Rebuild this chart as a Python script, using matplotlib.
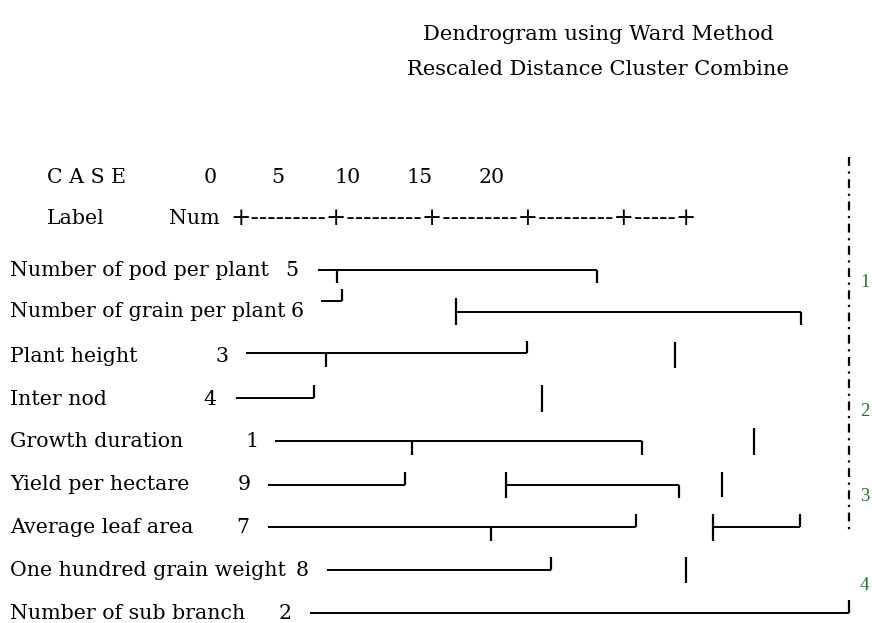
import matplotlib
matplotlib.use("Agg")
import matplotlib.pyplot as plt

# ---- data -------------------------------------------------------------
title_lines = ["Dendrogram using Ward Method", "Rescaled Distance Cluster Combine"]
scale_ticks = ["0", "5", "10", "15", "20"]
ruler = "+---------+---------+---------+---------+-----+"
labels = ["Number of pod per plant", "Number of grain per plant", "Plant height",
          "Inter nod", "Growth duration", "Yield per hectare", "Average leaf area",
          "One hundred grain weight", "Number of sub branch"]
case_nums = ["5", "6", "3", "4", "1", "9", "7", "8", "2"]
cluster_ids = ["1", "2", "3", "4"]
cluster_rows = [0.28, 3.31, 5.29, 7.35]

# horizontal joins: (row, distance_start, distance_end)
h_joins = [(0.00, 4.05, 18.55), (0.72, 4.21, 5.30), (0.98, 11.22, 29.14),
           (1.94, 0.31, 14.91), (2.99, -0.21, 3.84), (3.99, 1.82, 20.88),
           (5.01, 1.45, 8.57), (5.01, 13.82, 22.81), (5.99, 1.45, 20.57),
           (5.99, 24.57, 29.09), (7.00, 4.52, 16.16), (8.00, 3.64, 31.64)]
# vertical joins: (distance, row_start, row_end)
v_joins = [(5.04, 0.00, 0.30), (18.55, 0.00, 0.30), (5.30, 0.44, 0.72),
           (11.22, 0.65, 1.28), (29.14, 0.98, 1.28), (4.47, 1.94, 2.26),
           (14.91, 1.66, 1.94), (22.60, 1.68, 2.29), (3.84, 2.68, 2.99),
           (15.69, 2.68, 3.31), (8.94, 3.99, 4.31), (20.88, 3.99, 4.31),
           (26.70, 3.69, 4.31), (8.57, 4.71, 5.01), (13.82, 4.71, 5.32),
           (22.81, 5.01, 5.32), (25.04, 4.71, 5.29), (13.04, 5.99, 6.32),
           (20.57, 5.69, 5.99), (24.57, 5.69, 6.32), (29.09, 5.69, 5.99),
           (16.16, 6.69, 7.00), (23.17, 6.69, 7.30), (31.64, 7.70, 8.00)]
cut_distance = 31.64
cut_rows = (-2.64, 6.13)

# ---- layout -----------------------------------------------------------
W, H = 872, 623
X0, PXU = 240.0, 19.25      # pixel of distance 0, pixels per distance unit
Y0, PYR = 270.0, 42.875     # pixel of row 0, pixels per row

fig = plt.figure(figsize=(W / 100, H / 100), dpi=100)
ax = fig.add_axes([0, 0, 1, 1])
ax.set_xlim(-X0 / PXU, (W - X0) / PXU)
ax.set_ylim((H - Y0) / PYR, -Y0 / PYR)
ax.axis("off")

def dx(px):
    return (px - X0) / PXU

def ry(py):
    return (py - Y0) / PYR

serif = "DejaVu Serif"
fs = 14.8
lw = 1.4

# title
tx = dx(598)
ax.text(tx, ry(40), title_lines[0], family=serif, fontsize=15.1, ha="center", va="baseline")
ax.text(tx, ry(75), title_lines[1], family=serif, fontsize=15.1, ha="center", va="baseline")

# header
ax.text(dx(47), ry(183), "C A S E", family=serif, fontsize=fs, ha="left", va="baseline")
tick_px = [210, 278, 348, 420, 492]
for lab, px in zip(scale_ticks, tick_px):
    ax.text(dx(px), ry(183), lab, family=serif, fontsize=fs, ha="center", va="baseline")
ax.text(dx(76), ry(224), "Label", family=serif, fontsize=fs, ha="center", va="baseline")
ax.text(dx(194), ry(224), "Num", family=serif, fontsize=fs, ha="center", va="baseline")
ax.text(dx(230), ry(225), ruler, family=serif, fontsize=17.6, ha="left", va="baseline")

# row labels
num_px = [292, 297, 222, 210, 252, 244, 243, 302, 285]
text_rows = [0.0, 0.95, 2.0, 3.0, 4.0, 5.0, 6.0, 7.0, 8.0]
for i, (lab, n) in enumerate(zip(labels, case_nums)):
    yb = text_rows[i] + ry(276) - ry(270)
    ax.text(dx(10), yb, lab, family=serif, fontsize=fs, ha="left", va="baseline")
    ax.text(dx(num_px[i]), yb, n, family=serif, fontsize=fs, ha="center", va="baseline")

# dendrogram joins
for r, d0, d1 in h_joins:
    ax.plot([d0, d1], [r, r], color="black", lw=lw, solid_capstyle="butt")
for d, r0, r1 in v_joins:
    ax.plot([d, d], [r0, r1], color="black", lw=lw + 0.2, solid_capstyle="butt")

# cut line
ax.plot([cut_distance, cut_distance], list(cut_rows), color="black", lw=1.6,
        linestyle=(0, (4, 2.5, 1, 2.5)))

for cid, r in zip(cluster_ids, cluster_rows):
    ax.text(dx(860), r, cid, family="Liberation Serif", fontsize=13.5,
            color="#1f7a1f", ha="left", va="center")

fig.savefig("out.png", dpi=100)
